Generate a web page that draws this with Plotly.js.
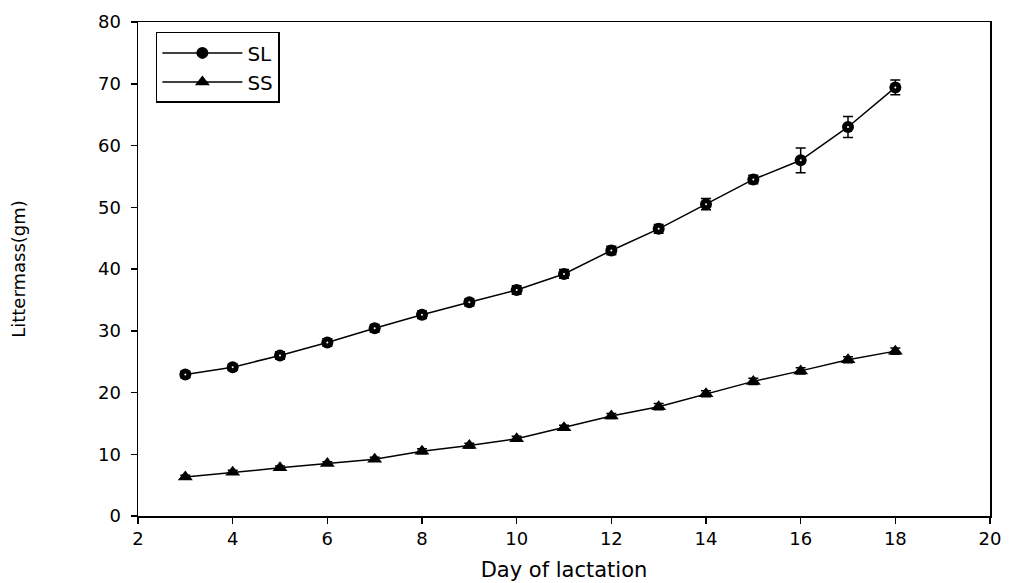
<!DOCTYPE html>
<html>
<head>
<meta charset="utf-8">
<script src="https://cdn.plot.ly/plotly-3.0.1.min.js"></script>
<style>html,body{margin:0;padding:0;background:#fff;}#chart{width:1009px;height:583px;}</style>
</head>
<body>
<div id="chart"></div>
<script>
const days = [3,4,5,6,7,8,9,10,11,12,13,14,15,16,17,18];
const slMass = [22.9,24.1,26.0,28.1,30.4,32.6,34.6,36.6,39.2,43.0,46.5,50.5,54.5,57.6,63.0,69.4];
const slErr  = [0.5,0.5,0.6,0.6,0.6,0.6,0.6,0.7,0.7,0.7,0.7,0.9,0.7,2.0,1.7,1.2];
const ssMass = [6.3,7.1,7.8,8.5,9.2,10.5,11.4,12.5,14.3,16.2,17.7,19.8,21.8,23.5,25.3,26.7];
const ssErr  = [0.3,0.3,0.3,0.3,0.3,0.4,0.4,0.4,0.4,0.4,0.5,0.5,0.5,0.5,0.5,0.5];
const xTicks = [2,4,6,8,10,12,14,16,18,20];
const yTicks = [0,10,20,30,40,50,60,70,80];

const FONT = 'DejaVu Sans, Liberation Sans, Arial, sans-serif';

const traces = [
  {
    x: days, y: slMass, name: 'SL', type: 'scatter', mode: 'lines+markers',
    line: {color: '#000', width: 1.5},
    marker: {symbol: 'circle', size: 12, color: '#000'},
    error_y: {type: 'data', array: slErr, visible: true, color: '#000', thickness: 1.5, width: 5}
  },
  {
    x: days, y: slMass, name: 'SL', type: 'scatter', mode: 'markers',
    marker: {symbol: 'circle', size: 2, color: '#fff'},
    showlegend: false, hoverinfo: 'skip'
  },
  {
    x: days, y: ssMass, name: 'SS', type: 'scatter', mode: 'lines+markers',
    line: {color: '#000', width: 1.5},
    marker: {symbol: 'triangle-up', size: 13, color: '#000'},
    error_y: {type: 'data', array: ssErr, visible: true, color: '#000', thickness: 1.5, width: 5}
  }
];

const layout = {
  width: 1009, height: 583,
  margin: {l: 138, r: 19, t: 22, b: 67},
  paper_bgcolor: '#fff', plot_bgcolor: '#fff',
  font: {family: FONT, color: '#000', size: 17},
  showlegend: true,
  legend: {
    x: 0.021, y: 0.98, xanchor: 'left', yanchor: 'top',
    bordercolor: '#000', borderwidth: 1.5, bgcolor: '#fff',
    font: {family: FONT, size: 20, color: '#000'},
    itemwidth: 80, tracegroupgap: 0
  },
  xaxis: {
    range: [2, 20], tickvals: xTicks, ticktext: xTicks.map(String),
    showgrid: false, zeroline: false,
    showline: true, linecolor: '#000', linewidth: 1.5, mirror: true,
    ticks: 'outside', ticklen: 6, tickwidth: 1.5, tickcolor: '#000',
    tickfont: {family: FONT, size: 18, color: '#000'},
    title: {text: 'Day of lactation', font: {family: FONT, size: 21, color: '#000'}, standoff: 14}
  },
  yaxis: {
    range: [0, 80], tickvals: yTicks, ticktext: yTicks.map(String),
    showgrid: false, zeroline: false,
    showline: true, linecolor: '#000', linewidth: 1.5, mirror: true,
    ticks: 'outside', ticklen: 6, tickwidth: 1.5, tickcolor: '#000',
    ticklabelstandoff: 6,
    tickfont: {family: FONT, size: 18, color: '#000'},
    title: {text: 'Littermass(gm)', font: {family: FONT, size: 18, color: '#000'}, standoff: 67}
  }
};

Plotly.newPlot('chart', traces, layout, {displayModeBar: false, staticPlot: true});
</script>
</body>
</html>
